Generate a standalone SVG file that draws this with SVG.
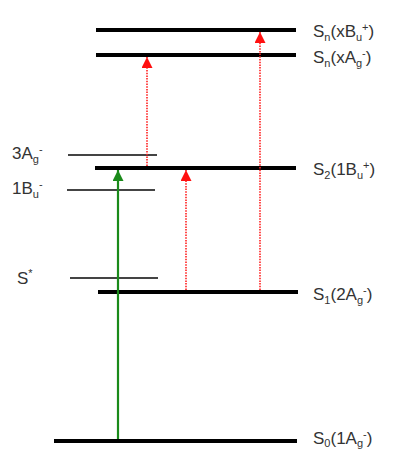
<svg xmlns="http://www.w3.org/2000/svg" width="414" height="451" viewBox="0 0 414 451">
<defs>
<style>
.lvl{stroke:#000;stroke-width:4}
.sub{stroke:#444;stroke-width:2}
.lbl{font-family:"Liberation Sans",Arial,sans-serif;font-size:17px;fill:#333}
.s{font-size:11px}
.red{stroke:#ff2020;stroke-width:1.6;stroke-dasharray:1.5 1.2;fill:none}
.grn{stroke:#1a8a1a;stroke-width:2.2;fill:none}
</style>
<marker id="ar" viewBox="0 0 10 10" refX="10" refY="5" markerWidth="11" markerHeight="11" orient="auto" markerUnits="userSpaceOnUse"><path d="M0,0 L10,5 L0,10 z" fill="#ff1010"/></marker>
<marker id="ag" viewBox="0 0 10 10" refX="10" refY="5" markerWidth="11" markerHeight="11" orient="auto" markerUnits="userSpaceOnUse"><path d="M0,0 L10,5 L0,10 z" fill="#1a8a1a"/></marker>
</defs>
<rect width="414" height="451" fill="#fff"/>
<g id="SnB"><line class="lvl" x1="96" y1="30" x2="296" y2="30"/><text class="lbl" x="313" y="37">S<tspan class="s" dy="4">n</tspan><tspan dy="-4">(xB</tspan><tspan class="s" dy="4">u</tspan><tspan class="s" dy="-10">+</tspan><tspan dy="6">)</tspan></text></g>
<g id="SnA"><line class="lvl" x1="96" y1="55" x2="296" y2="55"/><text class="lbl" x="313" y="63">S<tspan class="s" dy="4">n</tspan><tspan dy="-4">(xA</tspan><tspan class="s" dy="4">g</tspan><tspan class="s" dy="-10">-</tspan><tspan dy="6">)</tspan></text></g>
<g id="A3g"><line class="sub" x1="68" y1="155" x2="157" y2="155"/><text class="lbl" x="12" y="159">3A<tspan class="s" dy="4">g</tspan><tspan class="s" dy="-10">-</tspan></text></g>
<g id="S2"><line class="lvl" x1="95" y1="168" x2="296" y2="168"/><text class="lbl" x="313" y="175">S<tspan class="s" dy="4">2</tspan><tspan dy="-4">(1B</tspan><tspan class="s" dy="4">u</tspan><tspan class="s" dy="-10">+</tspan><tspan dy="6">)</tspan></text></g>
<g id="B1u"><line class="sub" x1="67" y1="190" x2="155" y2="190"/><text class="lbl" x="12" y="194">1B<tspan class="s" dy="4">u</tspan><tspan class="s" dy="-10">-</tspan></text></g>
<g id="Sstar"><line class="sub" x1="70" y1="278" x2="158" y2="278"/><text class="lbl" x="17" y="284">S<tspan class="s" dy="-7">*</tspan></text></g>
<g id="S1"><line class="lvl" x1="98" y1="292" x2="298" y2="292"/><text class="lbl" x="313" y="300">S<tspan class="s" dy="4">1</tspan><tspan dy="-4">(2A</tspan><tspan class="s" dy="4">g</tspan><tspan class="s" dy="-10">-</tspan><tspan dy="6">)</tspan></text></g>
<g id="S0"><line class="lvl" x1="54" y1="441" x2="297" y2="441"/><text class="lbl" x="313" y="444">S<tspan class="s" dy="3">0</tspan><tspan dy="-3">(1A</tspan><tspan class="s" dy="3">g</tspan><tspan class="s" dy="-9">-</tspan><tspan dy="6">)</tspan></text></g>
<g id="connectors">
<line class="grn" x1="118" y1="439" x2="118" y2="170" marker-end="url(#ag)"/>
<line class="red" x1="186" y1="290" x2="186" y2="170" marker-end="url(#ar)"/>
<line class="red" x1="147" y1="166" x2="147" y2="57" marker-end="url(#ar)"/>
<line class="red" x1="260" y1="290" x2="260" y2="32" marker-end="url(#ar)"/>
</g>
</svg>
